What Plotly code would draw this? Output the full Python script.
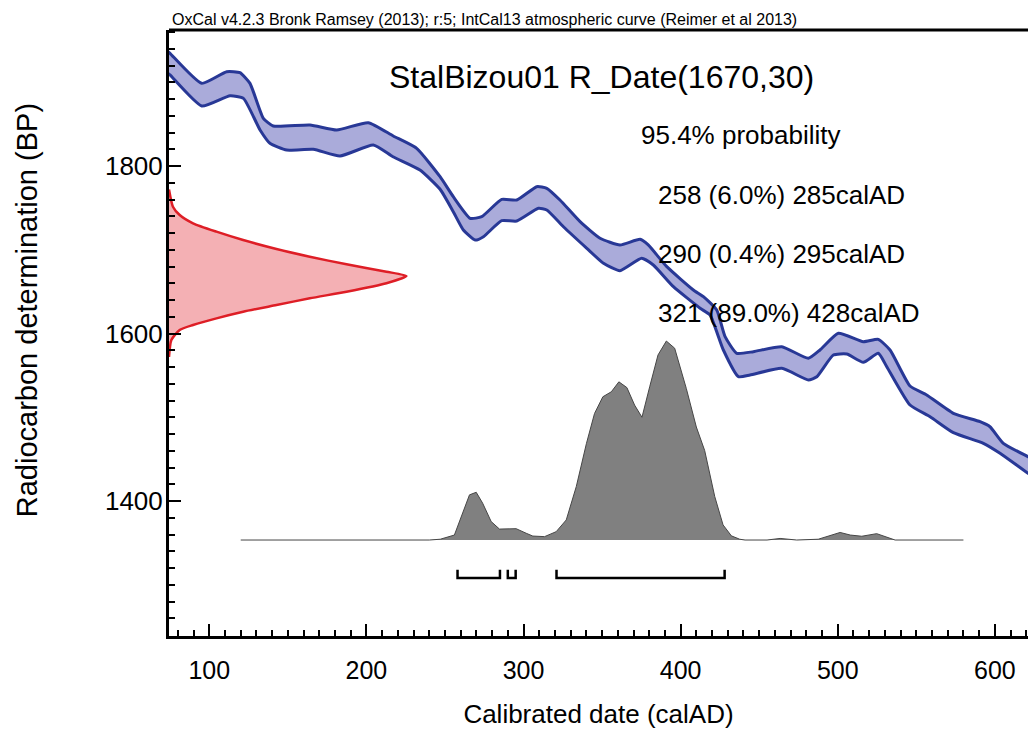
import plotly.graph_objects as go

# ---------------- data ----------------
# IntCal13 curve envelope (calAD, BP)
CAL_UPPER_X = [73.5, 75.0, 95.2, 111.1, 119.5, 125.9, 134.4, 140.7, 164.1, 181.1, 201.2, 217.1, 232.0,
               246.9, 255.3, 266.0, 273.4, 286.1, 295.7, 308.4, 314.8, 323.2, 336.0, 348.7, 361.4,
               374.2, 379.4, 391.2, 408.1, 414.5, 423.0, 428.3, 435.7, 446.3, 464.4, 481.3, 488.7,
               500.4, 516.3, 525.8, 533.3, 546.0, 556.6, 573.6, 590.6, 596.9, 605.4, 621.1, 624.0]
CAL_UPPER_BP = [1937, 1934.6, 1898.7, 1912.6, 1911.4, 1898.7, 1857.0, 1847.8, 1849.0, 1843.0, 1851.7,
                1835.8, 1821.1, 1787.2, 1763.3, 1737.6, 1739.5, 1760.2, 1759.4, 1775.3, 1773.4, 1759.4,
                1733.5, 1713.7, 1705.7, 1712.5, 1705.7, 1679.8, 1652.0, 1644.0, 1628.1, 1596.2, 1576.4,
                1578.3, 1584.2, 1570.4, 1580.3, 1600.2, 1590.2, 1593.0, 1580.3, 1537.3, 1526.6, 1504.7,
                1494.7, 1488.7, 1468.9, 1452.9, 1450.0]
CAL_LOWER_X = [73.5, 75.0, 95.2, 113.2, 121.7, 132.3, 138.6, 149.3, 166.2, 183.2, 204.4, 216.9, 234.1,
               246.9, 255.3, 261.7, 269.2, 274.5, 286.1, 295.7, 309.5, 314.8, 325.4, 340.3, 350.9,
               361.4, 375.2, 382.6, 395.4, 412.4, 418.7, 427.2, 436.8, 444.2, 464.4, 481.3, 486.7,
               497.2, 505.8, 516.3, 525.8, 531.2, 546.0, 558.8, 573.6, 592.7, 603.3, 621.1, 624.0]
CAL_LOWER_BP = [1911, 1908.7, 1871.6, 1883.9, 1880.8, 1843.0, 1827.1, 1819.1, 1819.9, 1811.9, 1825.1,
                1811.1, 1795.2, 1772.2, 1745.4, 1723.6, 1711.6, 1715.6, 1734.7, 1734.3, 1749.5, 1747.5,
                1727.5, 1701.7, 1683.8, 1675.0, 1689.8, 1681.8, 1655.9, 1630.1, 1622.1, 1580.3, 1548.4,
                1550.4, 1558.4, 1544.5, 1548.4, 1574.3, 1575.5, 1565.6, 1576.4, 1560.4, 1514.6, 1500.6,
                1481.6, 1468.9, 1457.0, 1433.1, 1430.0]

# Radiocarbon measurement R_Date(1670,30): BP level and drawn width (cal years from the axis)
RED_BP = [1772, 1751.4, 1741.5, 1731.6, 1721.6, 1711.6, 1700.9, 1691.7, 1682.6, 1673.8, 1668.7,
          1660.0, 1649.9, 1642.0, 1634.0, 1626.0, 1618.1, 1610.1, 1604.2, 1592.2, 1572]
RED_WIDTH = [0, 2.5, 6.8, 15.3, 30.2, 47.2, 68.4, 89.6, 113.0, 138.4, 151.1,
             138.4, 113.0, 89.6, 68.4, 47.2, 30.2, 15.3, 6.8, 1.5, 0]

# Calibrated probability distribution (calAD, relative probability)
GREY_X = [120, 240, 247, 256, 265.6, 269.9, 274, 279.4, 284.7, 295.3,
          301.7, 305.9, 313.4, 320.8, 327.2, 333.6, 340, 345.2, 350.5, 355.9,
          360.7, 365.8, 370.7, 375.4, 380.3, 385.6, 390.9, 396.2, 403.6, 410,
          415.3, 421.7, 427, 432.3, 437.6, 441, 455, 463.3, 473.9, 487.6,
          501.5, 508, 515.3, 524.8, 536.5, 580]
GREY_P = [0, 0, 0.004, 0.025, 0.227, 0.240, 0.185, 0.093, 0.055, 0.057,
          0.034, 0.020, 0.017, 0.042, 0.101, 0.269, 0.484, 0.636, 0.720, 0.745,
          0.795, 0.766, 0.678, 0.617, 0.770, 0.930, 1.0, 0.964, 0.762, 0.568,
          0.450, 0.219, 0.076, 0.021, 0.004, 0, 0, 0.008, 0, 0.004,
          0.038, 0.025, 0.019, 0.032, 0, 0]

# 95.4% ranges
RANGE_FROM = [258, 290, 321]
RANGE_TO = [285, 295, 428]
RANGE_PCT = ["6.0%", "0.4%", "89.0%"]

X_TICKS = [100, 200, 300, 400, 500, 600]
Y_TICKS = [1400, 1600, 1800]

TITLE = "StalBizou01 R_Date(1670,30)"
SUBTITLE = "95.4% probability"
NOTE = "OxCal v4.2.3 Bronk Ramsey (2013); r:5; IntCal13 atmospheric curve (Reimer et al 2013)"
X_TITLE = "Calibrated date (calAD)"
Y_TITLE = "Radiocarbon determination (BP)"

# ---------------- layout constants ----------------
X_RANGE = [74.35, 621.1]
Y_RANGE = [1238.8, 1962.4]
GREY_BASE = 1353.4
GREY_HEIGHT = 237.6
BRACKET_Y = 1308
BRACKET_TICK = 10
FONT = "Liberation Sans, Arial, sans-serif"
BAND_SMOOTH = 0.5

fig = go.Figure()

# calibration curve band
fig.add_trace(go.Scatter(
    x=CAL_UPPER_X + CAL_LOWER_X[::-1], y=CAL_UPPER_BP + CAL_LOWER_BP[::-1],
    fill="toself", fillcolor="rgb(170,171,218)", mode="lines",
    line=dict(width=0, shape="spline", smoothing=BAND_SMOOTH),
    hoverinfo="skip", showlegend=False))
for xs, ys in [(CAL_UPPER_X, CAL_UPPER_BP), (CAL_LOWER_X, CAL_LOWER_BP)]:
    fig.add_trace(go.Scatter(x=xs, y=ys, mode="lines",
                             line=dict(color="rgb(40,56,150)", width=3, shape="spline",
                                       smoothing=BAND_SMOOTH),
                             showlegend=False))

# radiocarbon date distribution on the y axis
fig.add_trace(go.Scatter(
    x=[X_RANGE[0] + w for w in RED_WIDTH], y=RED_BP, fill="toself",
    fillcolor="rgba(240,150,155,0.75)", mode="lines",
    line=dict(color="rgb(222,30,38)", width=2.5, shape="spline", smoothing=0.6),
    showlegend=False))

# calibrated distribution
fig.add_trace(go.Scatter(
    x=GREY_X, y=[GREY_BASE + p * GREY_HEIGHT for p in GREY_P], fill="toself",
    fillcolor="rgb(128,128,128)", mode="lines",
    line=dict(color="rgb(70,70,70)", width=1), showlegend=False))

# range brackets
bx, by = [], []
for a, b in zip(RANGE_FROM, RANGE_TO):
    bx += [a, a, b, b, None]
    by += [BRACKET_Y + BRACKET_TICK, BRACKET_Y, BRACKET_Y, BRACKET_Y + BRACKET_TICK, None]
fig.add_trace(go.Scatter(x=bx, y=by, mode="lines", line=dict(color="black", width=2.5),
                         showlegend=False))

annotations = [
    dict(text=NOTE, x=0.001, y=1.018, xref="paper", yref="paper", xanchor="left", yanchor="middle",
         showarrow=False, font=dict(size=16, color="black", family=FONT)),
    dict(text=TITLE, x=0.504, y=0.922, xref="paper", yref="paper", xanchor="center", yanchor="middle",
         showarrow=False, font=dict(size=32, color="black", family=FONT)),
    dict(text=SUBTITLE, x=0.547, y=0.827, xref="paper", yref="paper", xanchor="left", yanchor="middle",
         showarrow=False, font=dict(size=26, color="black", family=FONT)),
    dict(text=Y_TITLE, x=-0.165, y=0.538, xref="paper", yref="paper", xanchor="center",
         yanchor="middle", textangle=-90, showarrow=False,
         font=dict(size=29, color="black", family=FONT)),
]
for i, (a, b, p) in enumerate(zip(RANGE_FROM, RANGE_TO, RANGE_PCT)):
    annotations.append(dict(text=f"{a} ({p}) {b}calAD", x=0.567, y=0.728 - i * 0.0975,
                            xref="paper", yref="paper", xanchor="left", yanchor="middle",
                            showarrow=False, font=dict(size=26, color="black", family=FONT)))

fig.update_layout(
    width=1028, height=729, margin=dict(l=169, r=0, t=30, b=93),
    paper_bgcolor="white", plot_bgcolor="white",
    font=dict(family=FONT, color="black"),
    annotations=annotations,
    shapes=[dict(type="line", xref="paper", yref="paper", x0=0, x1=1, y0=1, y1=1,
                 line=dict(color="black", width=3))],
    xaxis=dict(range=X_RANGE, tickvals=X_TICKS, ticks="inside", ticklen=12, tickwidth=2,
               tickcolor="black", showline=True, linecolor="black", linewidth=3,
               showgrid=False, zeroline=False, tickfont=dict(size=25), ticklabelstandoff=10,
               minor=dict(dtick=10, tick0=0, ticks="inside", ticklen=6, tickwidth=1.5,
                          tickcolor="black", showgrid=False),
               title=dict(text=X_TITLE, font=dict(size=26), standoff=26)),
    yaxis=dict(range=Y_RANGE, tickvals=Y_TICKS, ticks="inside", ticklen=12, tickwidth=2,
               tickcolor="black", showline=True, linecolor="black", linewidth=3,
               showgrid=False, zeroline=False, tickfont=dict(size=26), ticklabelstandoff=-2,
               minor=dict(dtick=20, tick0=0, ticks="inside", ticklen=6, tickwidth=1.5,
                          tickcolor="black", showgrid=False)),
)

fig.write_html("out.html", config={"displayModeBar": False},
               post_script="document.body.style.margin='0px';")
